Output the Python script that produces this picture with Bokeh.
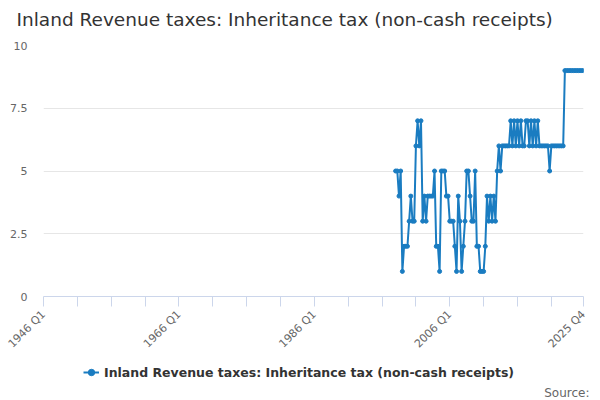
import math
from bokeh.plotting import figure
from bokeh.layouts import column
from bokeh.models import (Range1d, FixedTicker, NumeralTickFormatter, Legend,
                          LegendItem, Title, ColumnDataSource)
from bokeh.embed import file_html
from bokeh.resources import INLINE

# ---- data ----
years = list(range(1946, 2026))
quarters = [f"{y} Q{q}" for y in years for q in range(1, 5)]
series_name = "Inland Revenue taxes: Inheritance tax (non-cash receipts)"
series_start = "1998 Q1"
values = [
    5, 5, 4, 5,   # 1998
    1, 2, 2, 2,   # 1999
    3, 4, 3, 3,   # 2000
    6, 7, 6, 7,   # 2001
    3, 4, 3, 4,   # 2002
    4, 4, 4, 5,   # 2003
    2, 2, 1, 5,   # 2004
    5, 5, 4, 4,   # 2005
    3, 3, 3, 2,   # 2006
    1, 4, 3, 1,   # 2007
    2, 3, 5, 5,   # 2008
    4, 3, 3, 5,   # 2009
    2, 2, 1, 1,   # 2010
    1, 2, 4, 3,   # 2011
    4, 3, 4, 3,   # 2012
    5, 6, 5, 6,   # 2013
    6, 6, 6, 6,   # 2014
    7, 6, 7, 6,   # 2015
    7, 6, 7, 6,   # 2016
    6, 7, 7, 6,   # 2017
    7, 6, 7, 6,   # 2018
    7, 6, 6, 6,   # 2019
    6, 6, 6, 5,   # 2020
    6, 6, 6, 6,   # 2021
    6, 6, 6, 6,   # 2022
    9, 9, 9, 9,   # 2023
    9, 9, 9, 9,   # 2024
    9, 9, 9, 9,   # 2025
]
x_labels = ["1946 Q1", "1966 Q1", "1986 Q1", "2006 Q1", "2025 Q4"]
y_ticks = [0, 2.5, 5, 7.5, 10]
source_text = "Source:"

start = quarters.index(series_start)
xs = [start + i for i in range(len(values))]
src = ColumnDataSource(data=dict(x=xs, y=values, q=quarters[start:start + len(values)]))

n = len(quarters)
col = "#1a7cc1"
FONT = "DejaVu Sans"

# ---- title strip ----
p0 = figure(width=600, height=40, output_backend="svg", toolbar_location=None,
            x_axis_type=None, y_axis_type=None,
            x_range=Range1d(0, n - 1), y_range=Range1d(0, 1),
            min_border_left=43, min_border_right=17, min_border_top=0,
            min_border_bottom=0)
p0.grid.grid_line_color = None
p0.outline_line_color = None
p0.title.text = series_name
p0.title.text_font = FONT
p0.title.text_font_size = "18.5px"
p0.title.text_font_style = "normal"
p0.title.text_color = "#333333"
p0.title.offset = -27
p0.title.vertical_align = "top"
p0.title.standoff = 16

# ---- main chart ----
p = figure(width=600, height=318, output_backend="svg", toolbar_location=None,
           title=None, x_range=p0.x_range, y_range=Range1d(0, 10),
           min_border_left=43, min_border_right=17, min_border_top=5,
           min_border_bottom=58)

lr = p.line("x", "y", source=src, line_color=col, line_width=2)
sr = p.scatter("x", "y", source=src, size=4, fill_color=col, line_color=col)

ticks = list(range(0, n, 20)) + [n - 1]
overrides = {t: "" for t in ticks}
for lab in x_labels:
    overrides[quarters.index(lab)] = lab
p.xaxis.ticker = FixedTicker(ticks=ticks)
p.xaxis.major_label_overrides = overrides
p.xaxis.major_label_orientation = math.pi / 4
p.xaxis.axis_line_color = "#ccd6eb"
p.xaxis.major_tick_line_color = "#ccd6eb"
p.xaxis.major_tick_out = 10
p.xaxis.major_tick_in = 0
p.xaxis.minor_tick_line_color = None
p.xaxis.major_label_text_font = FONT
p.xaxis.major_label_text_font_size = "11px"
p.xaxis.major_label_text_color = "#666666"
p.xaxis.major_label_standoff = 6

p.yaxis.ticker = FixedTicker(ticks=y_ticks)
p.yaxis.formatter = NumeralTickFormatter(format="0.[0]")
p.yaxis.axis_line_color = None
p.yaxis.major_tick_line_color = None
p.yaxis.major_tick_out = 0
p.yaxis.minor_tick_line_color = None
p.yaxis.major_label_text_font = FONT
p.yaxis.major_label_text_font_size = "11px"
p.yaxis.major_label_text_color = "#666666"
p.yaxis.major_label_standoff = 16

p.xgrid.grid_line_color = None
p.ygrid.grid_line_color = "#e6e6e6"
p.outline_line_color = None

# ---- legend + source strip ----
p2 = figure(width=600, height=42, output_backend="svg", toolbar_location=None,
            title=None, x_axis_type=None, y_axis_type=None,
            x_range=p0.x_range, y_range=Range1d(20, 21),
            min_border_left=43, min_border_right=17, min_border_top=0,
            min_border_bottom=0)
p2.grid.grid_line_color = None
p2.outline_line_color = None
# same series, kept out of view: only feeds the legend swatch
lr2 = p2.line("x", "y", source=src, line_color=col, line_width=2)
sr2 = p2.scatter("x", "y", source=src, size=4, fill_color=col, line_color=col)

legend = Legend(items=[LegendItem(label=series_name, renderers=[lr2, sr2])],
                orientation="horizontal", location=(40, 0),
                border_line_color=None, background_fill_alpha=0,
                label_text_font=FONT, label_text_font_size="12.5px",
                label_text_font_style="bold", label_text_color="#333333",
                glyph_width=16, padding=2, margin=0)
p2.add_layout(legend, "center")

p2.add_layout(Title(text=source_text, align="right", offset=-6,
                    vertical_align="bottom", standoff=2,
                    text_font=FONT, text_font_size="12px",
                    text_font_style="normal", text_color="#666666"), "below")

layout = column(p0, p, p2, spacing=0)
open("out.html", "w").write(file_html(layout, INLINE))
